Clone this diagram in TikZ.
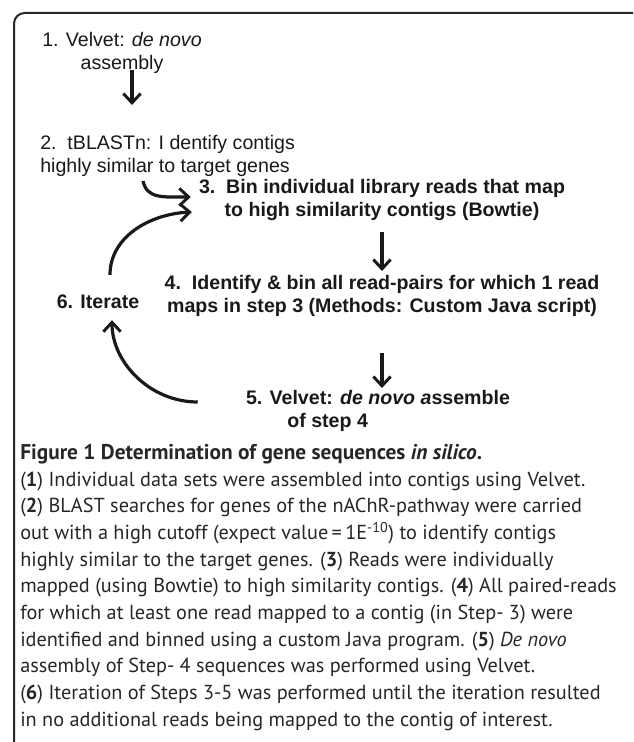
\documentclass[tikz,border=0pt]{standalone}
\usepackage{fontspec}
\setmainfont{Liberation Sans}
\newfontfamily\capfont{PT Sans}
\usetikzlibrary{arrows.meta,positioning,calc}
\tikzset{
  stepr/.style={inner sep=0pt, align=center, text=black!90,
                font=\fontsize{14.7}{17.4}\selectfont},
  stepb/.style={stepr, font=\fontsize{14.7}{17.4}\selectfont\bfseries},
  ar/.style={-{Straight Barb[length=7pt,width=13pt,line width=2.2pt]},
             line width=2.4pt, draw=black!90},
  frm/.style={line width=1.5pt, draw=black!85, rounded corners=8pt},
  capt/.style={inner sep=0pt, align=left, anchor=north west, text=black!85,
               font=\capfont\fontsize{15.2}{20}\selectfont},
}

\begin{document}
\begin{tikzpicture}[x=0.75pt,y=-0.75pt]
\useasboundingbox (0,0) rectangle (633,742);

% ===================== frame =====================
\begin{scope}
  \clip (0,0) rectangle (633,742);
  \draw[frm] (14,760) -- (14,13) -- (643,13) -- (643,40);
\end{scope}

% ===================== steps =====================
\node[stepr] (S1) at (122,53) {1. Velvet: \textit{de novo}\\assembly};
\node[stepr, align=left, anchor=west] (S2) at (40,156)
  {2.\ \ tBLASTn: I dentify contigs\\highly similar to target genes};
\node[stepb] (S3) at (382,200)
  {3.\ \ Bin individual library reads that map\\to high similarity contigs (Bowtie)};
\node[stepb] (S4) at (382,296)
  {4.\ \ Identify \& bin all read-pairs for which 1 read\\maps in step 3 (Methods: Custom Java script)};
\node[stepb, align=left] (S5) at (378,411)
  {5. Velvet: \textit{de novo a}ssemble\\\hspace*{31pt}of step 4};
\node[stepb] (S6) at (98,302) {6. Iterate};

% straight arrows
\draw[ar] ($(S1.south)+(10,-4)$) -- ++(0,35);
\draw[ar] ($(S3.south)+(0,11)$) -- ($(S4.north)+(0,-4)$);
\draw[ar] ($(S4.south)+(0,36)$) -- ++(0,35);

% curved arrows
\draw[ar] ($(S2.south west)+(103,4)$) .. controls +(4,18) and +(-28,0) .. ($(S3.west)+(-8,-3)$);
\draw[ar] ($(S6.north)+(12,-20)$) .. controls +(0,-38) and +(-42,2) .. ($(S3.west)+(-7,12)$);
\draw[ar] ($(S5.west)+(-48,-9)$) .. controls +(-48,0) and +(0,42) .. ($(S6.south)+(14,11)$);

% ===================== caption =====================
\node[capt] (CAP) at (20,444)
  {\textbf{\fontsize{16}{20}\selectfont Figure 1 Determination of gene sequences \textit{in silico}.}\\
   (\textbf{1}) Individual data sets were assembled into contigs using Velvet.\\
   (\textbf{2}) BLAST searches for genes of the nAChR-pathway were carried\\
   out with a high cutoff (expect value\,=\,1E\textsuperscript{-10}) to identify contigs\\
   highly similar to the target genes. (\textbf{3}) Reads were individually\\
   mapped (using Bowtie) to high similarity contigs. (\textbf{4}) All paired-reads\\
   for which at least one read mapped to a contig (in Step- 3) were\\
   identified and binned using a custom Java program. (\textbf{5}) \textit{De novo}\\
   assembly of Step- 4 sequences was performed using Velvet.\\
   (\textbf{6}) Iteration of Steps 3-5 was performed until the iteration resulted\\
   in no additional reads being mapped to the contig of interest.};

\end{tikzpicture}
\end{document}
